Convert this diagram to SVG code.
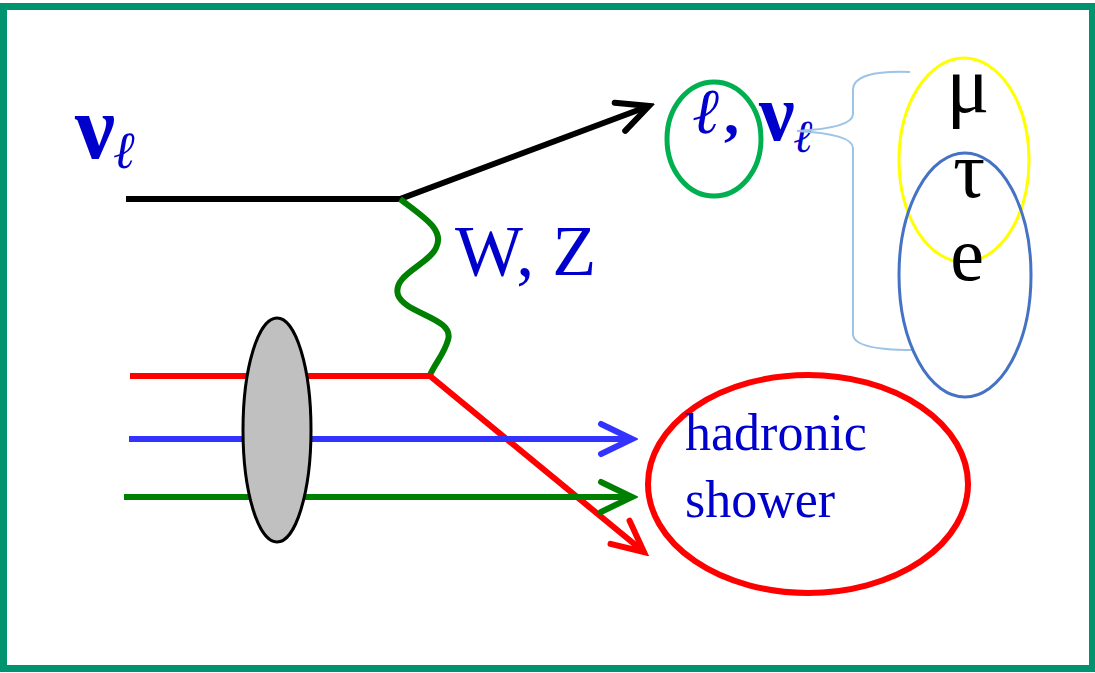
<svg xmlns="http://www.w3.org/2000/svg" width="1095" height="673" viewBox="0 0 1095 673">
<style>
.serif{font-family:"Liberation Serif","Times New Roman",serif}
.blue{fill:#0000CC}
.blk{fill:#000}
.ln{fill:none;stroke-width:6}
</style>
<defs>
<marker id="ahK" markerUnits="userSpaceOnUse" viewBox="-38 -22 44 44" refX="0" refY="0" markerWidth="44" markerHeight="44" orient="auto"><path d="M-31,-15 L0,0 L-31,15" fill="none" stroke="#000" stroke-width="6" stroke-linecap="round"/></marker>
<marker id="ahR" markerUnits="userSpaceOnUse" viewBox="-38 -22 44 44" refX="0" refY="0" markerWidth="44" markerHeight="44" orient="auto"><path d="M-31,-15 L0,0 L-31,15" fill="none" stroke="#FF0000" stroke-width="6" stroke-linecap="round"/></marker>
<marker id="ahB" markerUnits="userSpaceOnUse" viewBox="-38 -22 44 44" refX="0" refY="0" markerWidth="44" markerHeight="44" orient="auto"><path d="M-31,-15 L0,0 L-31,15" fill="none" stroke="#3333FF" stroke-width="6" stroke-linecap="round"/></marker>
<marker id="ahG" markerUnits="userSpaceOnUse" viewBox="-38 -22 44 44" refX="0" refY="0" markerWidth="44" markerHeight="44" orient="auto"><path d="M-31,-15 L0,0 L-31,15" fill="none" stroke="#008000" stroke-width="6" stroke-linecap="round"/></marker>
</defs>
<rect x="0" y="0" width="1095" height="673" fill="#fff"/>
<rect id="frame" x="3.5" y="6.5" width="1089" height="662" fill="none" stroke="#009370" stroke-width="7"/>

<g id="connectors">
<polyline class="ln" points="126,199 400,199 649,106" stroke="#000" marker-end="url(#ahK)"/>
<path class="ln" d="M400,199 C425,218 445,230 436,248 C428,265 392,275 398,295 C405,314 455,318 448,340 C444,354 436,362 430,375" stroke="#008000"/>
<polyline class="ln" points="130,376 430,376 644,552" stroke="#FF0000" marker-end="url(#ahR)"/>
<line class="ln" x1="129" y1="439" x2="632" y2="439" stroke="#3333FF" marker-end="url(#ahB)"/>
<line class="ln" x1="124" y1="497" x2="632" y2="497" stroke="#008000" marker-end="url(#ahG)"/>
</g>

<g id="nucleon">
<ellipse cx="277" cy="430" rx="34" ry="112" fill="#C0C0C0" stroke="#000" stroke-width="3"/>
</g>

<g id="nu-in">
<text class="serif blue" x="75" y="158" font-size="90" font-weight="bold">ν</text>
<text class="serif blue" x="113" y="168" font-size="52" font-style="italic">ℓ</text>
</g>

<g id="boson-label">
<text class="serif blue" x="455" y="275" font-size="72">W, Z</text>
</g>

<g id="lepton-out">
<ellipse cx="714" cy="139" rx="47" ry="57" fill="none" stroke="#00B050" stroke-width="5"/>
<text class="serif blue" x="692" y="133" font-size="64" font-style="italic">ℓ</text>
<text class="serif blue" x="724" y="134" font-size="60" font-weight="bold">,</text>
<text class="serif blue" x="759" y="140" font-size="80" font-weight="bold">ν</text>
<text class="serif blue" x="793" y="152" font-size="46" font-style="italic">ℓ</text>
</g>

<g id="brace">
<path d="M910,72 Q853,70 853,90 L853,114 Q853,128 797,131 Q853,134 853,148 L853,334 Q853,350 912,350" fill="none" stroke="#9DC3E6" stroke-width="2"/>
</g>

<g id="flavours">
<ellipse cx="964" cy="160" rx="65" ry="102" fill="none" stroke="#FFFF00" stroke-width="3"/>
<ellipse cx="965" cy="275" rx="66" ry="122" fill="none" stroke="#4472C4" stroke-width="3"/>
<text class="serif blk" x="968" y="112" font-size="80" text-anchor="middle">μ</text>
<text class="serif blk" x="969" y="197" font-size="80" text-anchor="middle">τ</text>
<text class="serif blk" x="967" y="280" font-size="76" text-anchor="middle">e</text>
</g>

<g id="shower">
<ellipse cx="808" cy="484" rx="160" ry="109" fill="none" stroke="#FF0000" stroke-width="6"/>
<text class="serif blue" x="685" y="450" font-size="52">hadronic</text>
<text class="serif blue" x="685" y="517" font-size="52">shower</text>
</g>
</svg>
